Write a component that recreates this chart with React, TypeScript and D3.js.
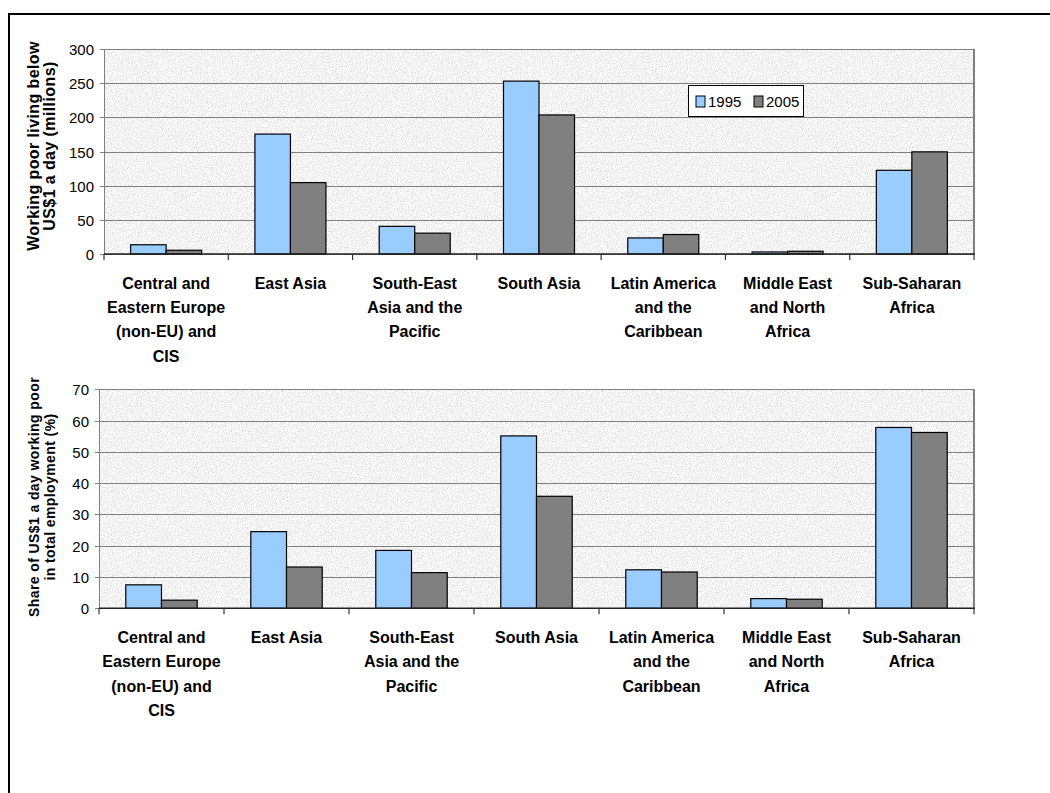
import React from "react";
import * as d3 from "d3";

const categories: string[][] = [
  ["Central and", "Eastern Europe", "(non-EU) and", "CIS"],
  ["East Asia"],
  ["South-East", "Asia and the", "Pacific"],
  ["South Asia"],
  ["Latin America", "and the", "Caribbean"],
  ["Middle East", "and North", "Africa"],
  ["Sub-Saharan", "Africa"],
];
const seriesNames = ["1995", "2005"];
const seriesColors = ["#99CCFF", "#808080"];

const poor1995 = [13.5, 175.5, 40.5, 253, 23.5, 3, 122.5];
const poor2005 = [5.5, 104.5, 30.5, 203.5, 28.5, 4, 149.5];
const share1995 = [7.5, 24.5, 18.5, 55.1, 12.3, 3.1, 57.8];
const share2005 = [2.6, 13.2, 11.4, 35.8, 11.6, 2.9, 56.2];

const topTicks = [0, 50, 100, 150, 200, 250, 300];
const bottomTicks = [0, 10, 20, 30, 40, 50, 60, 70];

const topTitle = ["Working poor living below", "US$1 a day (millions)"];
const bottomTitle = ["Share of US$1 a day working poor", "in total employment (%)"];

const FONT = "'Liberation Sans', Arial, Helvetica, sans-serif";

type PanelProps = {
  x0: number;
  x1: number;
  yTop: number;
  yBottom: number;
  max: number;
  ticks: number[];
  s1: number[];
  s2: number[];
  title: string[];
  titleCenter: number;
  titleSize: number;
  legend?: boolean;
  id: string;
};

function Panel(p: PanelProps) {
  const ids = categories.map((_, i) => String(i));
  const x = d3.scaleBand<string>().domain(ids).range([p.x0, p.x1]).padding(0);
  const xs = d3
    .scaleBand<string>()
    .domain(seriesNames)
    .range([0, x.bandwidth()])
    .paddingInner(0)
    .paddingOuter(0.75);
  const y = d3.scaleLinear().domain([0, p.max]).range([p.yBottom, p.yTop]);
  const vals = [p.s1, p.s2];
  const boundaries = ids.map((id) => x(id)!).concat([p.x1]);

  return (
    <g>
      <rect
        x={p.x0}
        y={p.yTop}
        width={p.x1 - p.x0}
        height={p.yBottom - p.yTop}
        filter="url(#tex)"
        fill="#e4e4e4"
      />
      {p.ticks.map((t) => (
        <line
          key={"g" + t}
          x1={p.x0 - 4}
          x2={p.x1}
          y1={Math.round(y(t)) + 0.5}
          y2={Math.round(y(t)) + 0.5}
          stroke="#808080"
          strokeWidth={1}
        />
      ))}
      {p.ticks.map((t) => (
        <text
          key={"t" + t}
          x={p.x0 - 10}
          y={y(t)}
          dy="0.4em"
          textAnchor="end"
          fontSize={15}
          fontFamily={FONT}
          fill="#000"
        >
          {t}
        </text>
      ))}
      <line x1={p.x0 + 0.5} x2={p.x0 + 0.5} y1={p.yTop} y2={p.yBottom} stroke="#808080" strokeWidth={1} />
      <line x1={p.x1} x2={p.x1} y1={p.yTop} y2={p.yBottom} stroke="#808080" strokeWidth={2} />
      {vals.map((arr, si) =>
        arr.map((v, i) => (
          <rect
            key={"b" + si + "-" + i}
            x={x(ids[i])! + xs(seriesNames[si])!}
            y={y(v)}
            width={xs.bandwidth()}
            height={p.yBottom - y(v)}
            fill={seriesColors[si]}
            stroke="#000"
            strokeWidth={1.2}
          />
        ))
      )}
      <line x1={p.x0} x2={p.x1 + 1} y1={p.yBottom} y2={p.yBottom} stroke="#222" strokeWidth={1.5} />
      {boundaries.map((bx, i) => (
        <line key={"xt" + i} x1={bx} x2={bx} y1={p.yBottom} y2={p.yBottom + 6} stroke="#333" strokeWidth={1.2} />
      ))}
      {categories.map((lines, i) => (
        <text
          key={"c" + i}
          x={x(ids[i])! + x.bandwidth() / 2}
          y={p.yBottom + 29}
          textAnchor="middle"
          fontSize={16}
          fontWeight="bold"
          fontFamily={FONT}
          fill="#000"
        >
          {lines.map((l, j) => (
            <tspan key={j} x={x(ids[i])! + x.bandwidth() / 2} y={p.yBottom + 29 + j * 24.3} dy="0.36em">
              {l}
            </tspan>
          ))}
        </text>
      ))}
      {p.title.map((l, j) => (
        <text
          key={"yt" + j}
          transform={`translate(${38.5 + j * 16.5},${p.titleCenter}) rotate(-90)`}
          textAnchor="middle"
          fontSize={p.titleSize}
          fontWeight="bold"
          fontFamily={FONT}
          letterSpacing={0.4}
          fill="#000"
        >
          {l}
        </text>
      ))}
      {p.legend && (
        <g>
          <rect x={688.5} y={85.5} width={115} height={31} fill="#fff" stroke="#000" strokeWidth={1} />
          {seriesNames.map((s, i) => (
            <g key={s}>
              <rect x={696 + i * 58} y={96} width={9} height={11} fill={seriesColors[i]} stroke="#000" strokeWidth={1} />
              <text x={708 + i * 58} y={107} fontSize={15} fontFamily={FONT} fill="#000">
                {s}
              </text>
            </g>
          ))}
        </g>
      )}
    </g>
  );
}

export default function App() {
  return (
    <svg
      width={1050}
      height={793}
      style={{ position: "absolute", left: 0, top: 0, display: "block", background: "#fff" }}
    >
      <defs>
        <filter id="tex" x="0" y="0" width="100%" height="100%" filterUnits="objectBoundingBox">
          <feTurbulence type="fractalNoise" baseFrequency="0.8" numOctaves="3" seed="3" result="n" />
          <feColorMatrix
            type="matrix"
            in="n"
            values="0.6 0 0 0 0.6  0.6 0 0 0 0.6  0.6 0 0 0 0.6  0 0 0 0 1"
          />
        </filter>
      </defs>
      <rect width={1050} height={793} fill="#fff" />
      <line x1={9} x2={9} y1={13} y2={793} stroke="#000" strokeWidth={2} />
      <line x1={8} x2={1050} y1={14} y2={14} stroke="#000" strokeWidth={2} />
      <Panel
        id="a"
        x0={104}
        x1={974}
        yTop={49}
        yBottom={254}
        max={300}
        ticks={topTicks}
        s1={poor1995}
        s2={poor2005}
        title={topTitle}
        titleCenter={146}
        titleSize={16}
        legend
      />
      <Panel
        id="b"
        x0={99}
        x1={974}
        yTop={389.3}
        yBottom={608.3}
        max={70}
        ticks={bottomTicks}
        s1={share1995}
        s2={share2005}
        title={bottomTitle}
        titleCenter={497}
        titleSize={14}
      />
    </svg>
  );
}
